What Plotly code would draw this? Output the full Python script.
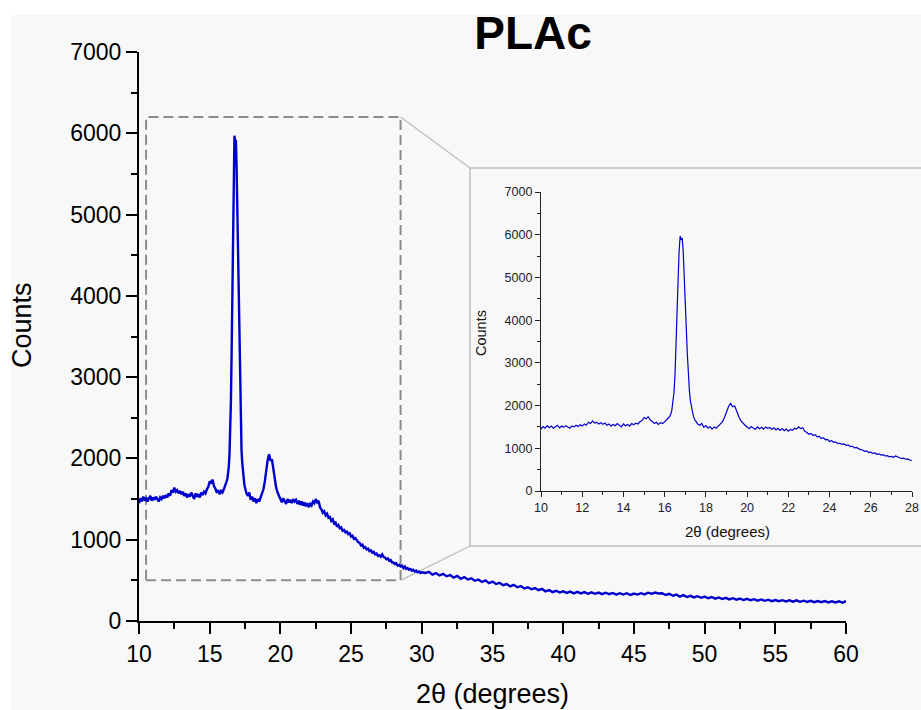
import plotly.graph_objects as go

# ---------------- data (counts) ----------------
# segment A: 2theta 10.0 .. 16.2, step 0.1
seg_a_start, seg_a_step = 10.0, 0.1
counts_a = [
    1450, 1510, 1470, 1530, 1480, 1520, 1470, 1500, 1540, 1480,
    1520, 1490, 1530, 1500, 1470, 1520, 1500, 1540, 1510, 1550,
    1520, 1570, 1540, 1610, 1580, 1640, 1590, 1610, 1570, 1600,
    1560, 1590, 1540, 1570, 1520, 1560, 1530, 1580, 1540, 1500,
    1570, 1530, 1560, 1520, 1580, 1550, 1590, 1570, 1620, 1650,
    1720, 1690, 1740, 1660, 1630, 1580, 1610, 1560, 1600, 1580,
    1620, 1660, 1720,
]
# segment B: 2theta 16.25 .. 17.60, step 0.05 (main peak)
seg_b_start, seg_b_step = 16.25, 0.05
counts_b = [
    1750, 1800, 1900, 2050, 2300, 2700, 3300, 4100, 4900, 5600,
    5970, 5880, 5920, 5600, 5100, 4500, 3800, 3200, 2700, 2350,
    2100, 1950, 1830, 1740, 1680, 1640, 1600, 1570,
]
# segment C: 2theta 17.7 .. 30.0, step 0.1
seg_c_start, seg_c_step = 17.7, 0.1
counts_c = [
    1540, 1580, 1490, 1530, 1470, 1510, 1450, 1500, 1470, 1520,   # 17.7-18.6
    1560, 1620, 1720, 1860, 1980, 2050, 1970, 1990, 1850, 1740,   # 18.7-19.6
    1640, 1580, 1540, 1500, 1460, 1510, 1470, 1440, 1500, 1460,   # 19.7-20.6
    1490, 1450, 1500, 1470, 1490, 1440, 1480, 1430, 1470, 1420,   # 20.7-21.6
    1460, 1410, 1450, 1400, 1440, 1420, 1470, 1450, 1500, 1460,   # 21.7-22.6
    1480, 1400, 1370, 1330, 1350, 1300, 1320, 1270, 1280, 1230,   # 22.7-23.6
    1250, 1200, 1210, 1160, 1180, 1140, 1150, 1110, 1120, 1090,   # 23.7-24.6
    1100, 1070, 1080, 1040, 1050, 1010, 1020, 990, 970, 960,      # 24.7-25.6
    930, 940, 900, 910, 880, 890, 860, 870, 840, 850,             # 25.7-26.6
    820, 830, 800, 810, 790, 820, 790, 780, 760, 770,             # 26.7-27.6
    740, 750, 720, 720, 700, 710, 680, 690, 670, 680,             # 27.7-28.6
    650, 670, 640, 650, 630, 640, 620, 630, 610, 620,             # 28.7-29.6
    600, 610, 590, 600,                                           # 29.7-30.0
]
# segment D: 2theta 30.25 .. 60.0, step 0.25
seg_d_start, seg_d_step = 30.25, 0.25
counts_d = [
    590, 605, 570, 590, 560, 580, 550, 565,
    535, 555, 520, 540, 510, 525, 495, 510,
    480, 500, 465, 485, 455, 470, 440, 455,
    425, 445, 415, 430, 400, 415, 390, 405,
    380, 395, 365, 380, 355, 372, 350, 365,
    345, 362, 340, 358, 340, 355, 335, 352,
    335, 350, 330, 348, 330, 345, 325, 342,
    325, 342, 320, 338, 325, 342, 328, 348,
    335, 350, 338, 342, 320, 335, 310, 325,
    300, 318, 295, 310, 290, 305, 285, 300,
    280, 295, 275, 290, 270, 285, 265, 280,
    262, 276, 258, 272, 255, 268, 250, 265,
    248, 262, 244, 258, 243, 256, 240, 254,
    238, 254, 236, 250, 234, 249, 232, 246,
    232, 245, 228, 242, 228, 242, 226, 245,
]

x_ticks_main = [10, 15, 20, 25, 30, 35, 40, 45, 50, 55, 60]
y_ticks = [0, 1000, 2000, 3000, 4000, 5000, 6000, 7000]
x_ticks_inset = [10, 12, 14, 16, 18, 20, 22, 24, 26, 28]
zoom_box = dict(x0=10.5, x1=28.5, y0=500, y1=6200)

title_text = "PLAc"
x_title = "2θ (degrees)"
y_title = "Counts"

# ---------------- assemble series ----------------
two_theta, counts = [], []
for start, step, ys in [(seg_a_start, seg_a_step, counts_a),
                        (seg_b_start, seg_b_step, counts_b),
                        (seg_c_start, seg_c_step, counts_c),
                        (seg_d_start, seg_d_step, counts_d)]:
    for i, v in enumerate(ys):
        two_theta.append(round(start + step * i, 3))
        counts.append(v)

# ---------------- layout geometry (pixels) ----------------
W, H = 921, 710
ML, MR, MT, MB = 139, 5, 52, 89
PW, PH = W - ML - MR, H - MT - MB


def px(xp):
    return (xp - ML) / PW


def py(yp):
    return (H - MB - yp) / PH


main_xdom = [0, px(846)]
inset_xdom = [px(541), px(912)]
inset_ydom = [py(491), py(192)]

LINE_BLUE = "#0000cd"
FONT = "Arial, Liberation Sans, sans-serif"

fig = go.Figure()
fig.add_trace(go.Scatter(x=two_theta, y=counts, mode="lines",
                         line=dict(color=LINE_BLUE, width=2.4),
                         xaxis="x", yaxis="y", showlegend=False))
fig.add_trace(go.Scatter(x=two_theta, y=counts, mode="lines",
                         line=dict(color=LINE_BLUE, width=1.2),
                         xaxis="x2", yaxis="y2", showlegend=False))


# data -> paper for the zoom box corners
def data_to_paper_x(v):
    return main_xdom[0] + (v - 10) / 50 * (main_xdom[1] - main_xdom[0])


def data_to_paper_y(v):
    return v / 7000


shapes = [
    dict(type="rect", xref="paper", yref="paper", layer="below",
         x0=px(11), x1=px(930), y0=py(720), y1=py(15),
         fillcolor="#f8f8f8", line=dict(width=0)),
    dict(type="rect", xref="paper", yref="paper", layer="below",
         x0=px(470), x1=px(930), y0=py(546), y1=py(168),
         fillcolor="#f8f8f8", line=dict(color="#bdbdbd", width=1.5)),
    dict(type="line", xref="paper", yref="paper", layer="below",
         x0=data_to_paper_x(zoom_box["x1"]), y0=data_to_paper_y(zoom_box["y1"]),
         x1=px(470), y1=py(168), line=dict(color="#bdbdbd", width=1.2)),
    dict(type="line", xref="paper", yref="paper", layer="below",
         x0=data_to_paper_x(zoom_box["x1"]), y0=data_to_paper_y(zoom_box["y0"]),
         x1=px(470), y1=py(546), line=dict(color="#bdbdbd", width=1.2)),
    dict(type="rect", xref="x", yref="y", layer="below",
         x0=zoom_box["x0"], x1=zoom_box["x1"], y0=zoom_box["y0"], y1=zoom_box["y1"],
         line=dict(color="#8c8c8c", width=2, dash="10px,5px")),
]

annotations = [
    dict(text=y_title, xref="paper", yref="paper", x=px(22), y=py(325),
         textangle=-90, showarrow=False, xanchor="center", yanchor="middle",
         font=dict(family=FONT, size=27, color="black")),
    dict(text=x_title, xref="paper", yref="paper", x=px(492), y=py(694),
         showarrow=False, xanchor="center", yanchor="middle",
         font=dict(family=FONT, size=27, color="black")),
    dict(text=y_title, xref="paper", yref="paper", x=px(481), y=py(333),
         textangle=-90, showarrow=False, xanchor="center", yanchor="middle",
         font=dict(family=FONT, size=14.5, color="#111")),
    dict(text=x_title, xref="paper", yref="paper", x=px(727), y=py(531),
         showarrow=False, xanchor="center", yanchor="middle",
         font=dict(family=FONT, size=15, color="#111")),
]

main_axis_common = dict(showline=True, linecolor="black", linewidth=2,
                        ticks="outside", ticklen=11, tickwidth=2, tickcolor="black",
                        showgrid=False, zeroline=False, automargin=False,
                        tickfont=dict(family=FONT, size=23, color="black"))
inset_axis_common = dict(showline=True, linecolor="#222", linewidth=1.3,
                         ticks="outside", ticklen=5, tickwidth=1.3, tickcolor="#222",
                         showgrid=False, zeroline=False, automargin=False,
                         tickfont=dict(family=FONT, size=12.5, color="#222"))

fig.update_layout(
    width=W, height=H,
    margin=dict(l=ML, r=MR, t=MT, b=MB, autoexpand=False),
    paper_bgcolor="white", plot_bgcolor="rgba(0,0,0,0)",
    title=dict(text="<b>" + title_text + "</b>", x=533 / W, y=1 - 33 / H,
               xref="container", yref="container", xanchor="center", yanchor="middle",
               font=dict(family=FONT, size=46, color="black")),
    xaxis=dict(domain=main_xdom, range=[10, 60], tickvals=x_ticks_main,
               minor=dict(dtick=2.5, tick0=10, ticklen=6, tickwidth=2, tickcolor="black",
                          ticks="outside"),
               anchor="y", **main_axis_common),
    yaxis=dict(domain=[0, 1], range=[0, 7000], tickvals=y_ticks,
               minor=dict(dtick=500, tick0=0, ticklen=6, tickwidth=2, tickcolor="black",
                          ticks="outside"),
               anchor="x", **main_axis_common),
    xaxis2=dict(domain=inset_xdom, range=[10, 28], tickvals=x_ticks_inset,
                minor=dict(dtick=1, tick0=10, ticklen=3, tickwidth=1.3, tickcolor="#222",
                           ticks="outside"),
                anchor="y2", **inset_axis_common),
    yaxis2=dict(domain=inset_ydom, range=[0, 7000], tickvals=y_ticks,
                minor=dict(dtick=500, tick0=0, ticklen=3, tickwidth=1.3, tickcolor="#222",
                           ticks="outside"),
                anchor="x2", **inset_axis_common),
    shapes=shapes,
    annotations=annotations,
    showlegend=False,
)

fig.write_html("out.html")
